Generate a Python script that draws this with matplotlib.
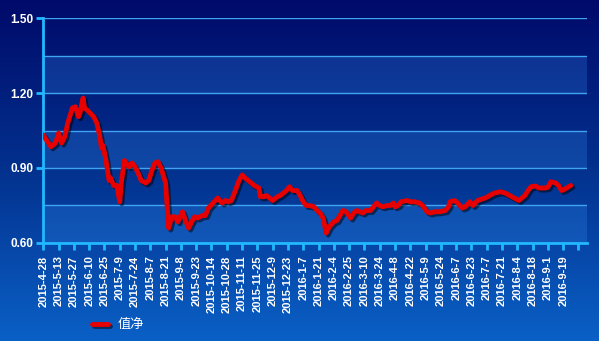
import numpy as np
import matplotlib
matplotlib.use('Agg')
import matplotlib.pyplot as plt
import matplotlib.patheffects as pe
from matplotlib.colors import LinearSegmentedColormap

# 交易日序号 (从 2015-4-28 起) 与净值
day = [0, 2, 5, 8, 10, 12, 14, 16, 19, 21, 23, 24, 26, 27, 29, 33, 35, 37, 38, 39,
       41, 43, 44, 46, 48, 50, 51, 53, 56, 58, 60, 62, 64, 67, 69, 71, 73, 75, 77, 80,
       81, 82, 84, 86, 88, 91, 93, 95, 97, 99, 101, 104, 106, 108, 111, 114, 117, 119, 121, 123,
       125, 128, 130, 132, 134, 136, 138, 141, 142, 144, 146, 148, 150, 153, 155, 157, 159, 161, 163, 166,
       168, 170, 172, 174, 177, 179, 181, 183, 185, 187, 190, 192, 194, 196, 198, 201, 203, 205, 207, 209,
       211, 214, 216, 218, 220, 222, 225, 227, 229, 230, 232, 234, 238, 240, 243, 246, 248, 251, 253, 256,
       259, 263, 265, 266, 269, 271, 274, 276, 279, 281, 284, 289, 292, 295, 299, 302, 305, 308, 311, 313,
       315, 317, 319, 322, 324, 326, 328, 330, 332, 335, 337, 339, 341, 343, 345]
nav = [1.032, 1.012, 0.985, 1.00, 1.04, 1.00, 1.025, 1.08, 1.14, 1.145, 1.105, 1.12, 1.18, 1.14, 1.13, 1.105, 1.08, 1.025, 0.98, 0.99,
       0.93, 0.85, 0.86, 0.83, 0.83, 0.765, 0.84, 0.93, 0.905, 0.92, 0.905, 0.88, 0.85, 0.84, 0.85, 0.89, 0.92, 0.925, 0.90, 0.84,
       0.745, 0.66, 0.705, 0.705, 0.685, 0.725, 0.69, 0.66, 0.685, 0.705, 0.70, 0.71, 0.71, 0.74, 0.76, 0.78, 0.76, 0.77, 0.765, 0.77,
       0.80, 0.85, 0.872, 0.86, 0.85, 0.84, 0.83, 0.82, 0.785, 0.785, 0.79, 0.78, 0.77, 0.785, 0.79, 0.80, 0.81, 0.825, 0.81, 0.81,
       0.79, 0.765, 0.75, 0.75, 0.745, 0.73, 0.72, 0.70, 0.64, 0.665, 0.685, 0.69, 0.71, 0.73, 0.725, 0.70, 0.72, 0.73, 0.725, 0.72,
       0.73, 0.73, 0.745, 0.76, 0.75, 0.745, 0.75, 0.75, 0.76, 0.745, 0.75, 0.765, 0.77, 0.765, 0.765, 0.76, 0.75, 0.725, 0.72, 0.725,
       0.725, 0.73, 0.745, 0.765, 0.77, 0.76, 0.74, 0.745, 0.765, 0.75, 0.77, 0.78, 0.79, 0.80, 0.805, 0.80, 0.79, 0.78, 0.77, 0.78,
       0.79, 0.81, 0.825, 0.828, 0.82, 0.82, 0.82, 0.823, 0.845, 0.84, 0.83, 0.81, 0.815, 0.823, 0.83]

date_labels = ['2015-4-28', '2015-5-13', '2015-5-27', '2015-6-10', '2015-6-25', '2015-7-9', '2015-7-24',
               '2015-8-7', '2015-8-21', '2015-9-8', '2015-9-23', '2015-10-14', '2015-10-28', '2015-11-11',
               '2015-11-25', '2015-12-9', '2015-12-23', '2016-1-7', '2016-1-21', '2016-2-4', '2016-2-25',
               '2016-3-10', '2016-3-24', '2016-4-8', '2016-4-22', '2016-5-9', '2016-5-24', '2016-6-7',
               '2016-6-23', '2016-7-7', '2016-7-21', '2016-8-4', '2016-8-18', '2016-9-1', '2016-9-19']

fig = plt.figure(figsize=(5.99, 3.41), dpi=100)

# 背景渐变
bg = fig.add_axes([0, 0, 1, 1], zorder=-10)
cmap = LinearSegmentedColormap.from_list('bg', ['#000a6a', '#03318e', '#0a60c6'])
bg.imshow(np.linspace(0, 1, 256).reshape(-1, 1), aspect='auto', cmap=cmap, extent=[0, 1, 0, 1])
bg.axis('off')

ax = fig.add_axes([0.0723, 0.2874, 0.9077, 0.6598])
ax.set_facecolor('none')

for lo in (0.60, 0.90, 1.20):
    ax.axhspan(lo, lo + 0.15, color='#3a9cff', alpha=0.22, lw=0, zorder=0)

line, = ax.plot(day, nav, color='#e60000', lw=3.5, label='值净', zorder=3,
                solid_joinstyle='round', solid_capstyle='round')
line.set_path_effects([pe.SimpleLineShadow(offset=(1.5, -1.5), shadow_color='k', alpha=0.5),
                       pe.Normal()])

ax.set_xlim(0, 355.6)
ax.set_ylim(0.6, 1.5)
ax.set_yticks([0.6, 0.9, 1.2, 1.5])
ax.set_yticks([0.75, 1.05, 1.35], minor=True)
ax.set_yticklabels(['%.2f' % v for v in [0.6, 0.9, 1.2, 1.5]])
ax.grid(axis='y', which='both', color='#3fa4f2', lw=1, zorder=1)
ax.set_axisbelow(True)

ticks = np.arange(0, 360, 10)
ax.set_xticks(ticks)
ax.set_xticklabels(date_labels + [''] * (len(ticks) - len(date_labels)), rotation=90)

for s in ('top', 'right'):
    ax.spines[s].set_visible(False)
for s in ('left', 'bottom'):
    ax.spines[s].set_color('#22b8ff')
    ax.spines[s].set_linewidth(2)
ax.tick_params(axis='y', which='major', colors='#22b8ff', length=5, width=2, pad=2, labelcolor='white')
ax.tick_params(axis='y', which='minor', length=0)
ax.tick_params(axis='x', colors='#22b8ff', length=5, width=2, pad=4, labelcolor='white')
for t in ax.get_yticklabels():
    t.set_fontfamily('Liberation Sans')
    t.set_fontweight('bold')
    t.set_fontsize(8.5)
for t in ax.get_xticklabels():
    t.set_fontfamily('Liberation Sans')
    t.set_fontweight('bold')
    t.set_fontsize(8)

leg = fig.legend(handles=[line], loc='center left', bbox_to_anchor=(0.153, 0.047),
                 frameon=False, borderpad=0, borderaxespad=0, handlelength=1.25,
                 handletextpad=0.7, prop={'family': ['Noto Sans CJK SC', 'DejaVu Sans'], 'size': 9.5})
for t in leg.get_texts():
    t.set_color('white')

fig.savefig('out.png', dpi=100)
